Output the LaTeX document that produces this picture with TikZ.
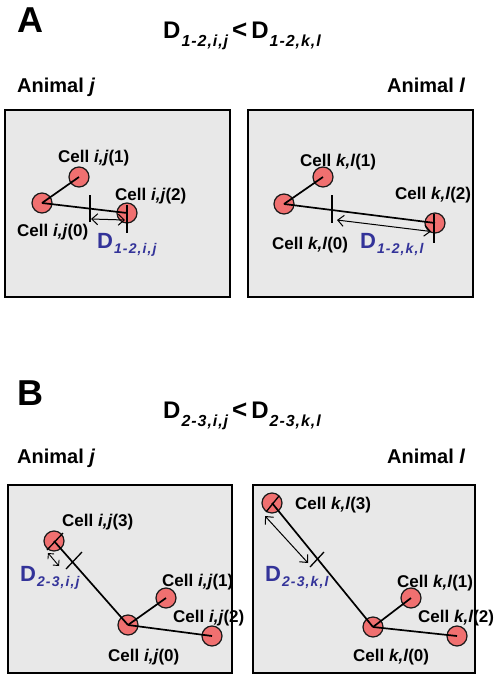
\documentclass[tikz,border=0pt]{standalone}
\usepackage{fontspec}
\setmainfont{Liberation Sans}
\usetikzlibrary{arrows.meta}
\definecolor{cellfill}{RGB}{240,112,112}
\definecolor{panelgray}{RGB}{232,232,232}
\definecolor{dblue}{RGB}{51,51,153}
\newcommand\Dsym[5]{{\fontsize{#1}{#1}\selectfont D}\kern1pt\raisebox{-#3}{\fontsize{#2}{#2}\selectfont\itshape\addfontfeatures{LetterSpace=#4}#5}}
\begin{document}
\begin{tikzpicture}[x=1pt,y=-1pt,
  cell/.style={circle, fill=cellfill, draw=black!90, line width=1.2pt, minimum size=20pt, inner sep=0pt},
  lbl/.style={anchor=base west, inner sep=0pt, font=\bfseries\fontsize{17}{17}\selectfont},
  head/.style={anchor=base west, inner sep=0pt, font=\bfseries\fontsize{36}{36}\selectfont},
  animal/.style={anchor=base west, inner sep=0pt, font=\bfseries\fontsize{20}{20}\selectfont},
  title/.style={anchor=base west, inner sep=0pt, font=\bfseries},
  dlbl/.style={anchor=base west, inner sep=0pt, text=dblue, font=\bfseries},
  panel/.style={draw=black, line width=2pt, fill=panelgray},
  link/.style={line width=1.7pt},
  tickmark/.style={line width=1.3pt},
  dim/.style={{Straight Barb[length=6pt,width=11pt]}-{Straight Barb[length=6pt,width=11pt]}, line width=1pt},
  dimsmall/.style={{Straight Barb[length=4pt,width=8pt]}-{Straight Barb[length=4pt,width=8pt]}, line width=0.9pt}
]
\useasboundingbox (0,0) rectangle (501,680);
\fill[white] (0,0) rectangle (501,680);

% ---------------- Panel A ----------------
\node[head] (hA) at (17,32) {A};
\node[title] (tA) at (163,38) {\Dsym{24pt}{16pt}{8pt}{6}{1-2,i,j}\kern4pt{\fontsize{26}{26}\selectfont<}\kern4pt\Dsym{24pt}{16pt}{8pt}{6}{1-2,k,l}};
\node[animal] (anjA) at (17,92) {Animal \textit{j}};
\node[animal] (anlA) at (387,92) {Animal \textit{l}};

\draw[panel] (5,110) rectangle (230,297);
\draw[panel] (248,110) rectangle (473,297);

% left box A
\node[cell] (a0) at (42,203) {};
\node[cell] (a1) at (79,177) {};
\node[cell] (a2) at (127,213) {};
\draw[link] (a0.center) -- (a1.center);
\draw[link] (a0.center) -- (a2.center);
\coordinate (at1a) at (90,195); \coordinate (at1b) at (90,222);
\coordinate (at2a) at (127,205); \coordinate (at2b) at (127,233);
\draw[tickmark] (at1a) -- (at1b);
\draw[tickmark] (at2a) -- (at2b);
\coordinate (ada) at (91,219); \coordinate (adb) at (125,220);
\draw[dim] (ada) -- (adb);
\node[lbl] (la1) at (58,162) {Cell \textit{i,j}(1)};
\node[lbl] (la2) at (115,200) {Cell \textit{i,j}(2)};
\node[lbl] (la0) at (17,236) {Cell \textit{i,j}(0)};
\node[dlbl] (da) at (97,248) {\Dsym{22pt}{14pt}{5pt}{8}{1-2,i,j}};

% right box A
\node[cell] (b0) at (284,204) {};
\node[cell] (b1) at (323,177) {};
\node[cell] (b2) at (435,223) {};
\draw[link] (b0.center) -- (b1.center);
\draw[link] (b0.center) -- (b2.center);
\coordinate (bt1a) at (332,195); \coordinate (bt1b) at (332,223);
\coordinate (bt2a) at (434,214); \coordinate (bt2b) at (434,243);
\draw[tickmark] (bt1a) -- (bt1b);
\draw[tickmark] (bt2a) -- (bt2b);
\coordinate (bda) at (337,220); \coordinate (bdb) at (431,231.5);
\draw[dim] (bda) -- (bdb);
\node[lbl] (lb1) at (300,166) {Cell \textit{k,l}(1)};
\node[lbl] (lb2) at (395,199) {Cell \textit{k,l}(2)};
\node[lbl] (lb0) at (272,249) {Cell \textit{k,l}(0)};
\node[dlbl] (db) at (360,248) {\Dsym{22pt}{14pt}{5pt}{8}{1-2,k,l}};

% ---------------- Panel B ----------------
\node[head] (hB) at (17,405) {B};
\node[title] (tB) at (163,418) {\Dsym{24pt}{16pt}{8pt}{6}{2-3,i,j}\kern4pt{\fontsize{26}{26}\selectfont<}\kern4pt\Dsym{24pt}{16pt}{8pt}{6}{2-3,k,l}};
\node[animal] (anjB) at (17,463) {Animal \textit{j}};
\node[animal] (anlB) at (387,463) {Animal \textit{l}};

\draw[panel] (8,485) rectangle (232,673);
\draw[panel] (253,485) rectangle (475,673);

% left box B
\node[cell] (c0) at (128,625) {};
\node[cell] (c1) at (166,598) {};
\node[cell] (c2) at (212,636) {};
\node[cell] (c3) at (54,541) {};
\draw[link] (c0.center) -- (c1.center);
\draw[link] (c0.center) -- (c2.center);
\draw[link] (c0.center) -- (c3.center);
\coordinate (ct1a) at (47,550); \coordinate (ct1b) at (63,533);
\coordinate (ct2a) at (66,569); \coordinate (ct2b) at (82,552);
\draw[tickmark] (ct1a) -- (ct1b);
\draw[tickmark] (ct2a) -- (ct2b);
\coordinate (cda) at (48,553); \coordinate (cdb) at (59,566);
\draw[dimsmall] (cda) -- (cdb);
\node[lbl] (lc3) at (62,526) {Cell \textit{i,j}(3)};
\node[lbl] (lc1) at (162,586) {Cell \textit{i,j}(1)};
\node[lbl] (lc2) at (173,622) {Cell \textit{i,j}(2)};
\node[lbl] (lc0) at (108,661) {Cell \textit{i,j}(0)};
\node[dlbl] (dc) at (20,581) {\Dsym{22pt}{14pt}{5pt}{8}{2-3,i,j}};

% right box B
\node[cell] (e0) at (373,627) {};
\node[cell] (e1) at (411,598) {};
\node[cell] (e2) at (457,636) {};
\node[cell] (e3) at (272,503) {};
\draw[link] (e0.center) -- (e1.center);
\draw[link] (e0.center) -- (e2.center);
\draw[link] (e0.center) -- (e3.center);
\coordinate (et1a) at (266,512); \coordinate (et1b) at (279,496);
\coordinate (et2a) at (310,567); \coordinate (et2b) at (324,552);
\draw[tickmark] (et1a) -- (et1b);
\draw[tickmark] (et2a) -- (et2b);
\coordinate (eda) at (265,516); \coordinate (edb) at (308,563);
\draw[dim] (eda) -- (edb);
\node[lbl] (le3) at (295,509) {Cell \textit{k,l}(3)};
\node[lbl] (le1) at (397,587) {Cell \textit{k,l}(1)};
\node[lbl] (le2) at (418,622) {Cell \textit{k,l}(2)};
\node[lbl] (le0) at (353,661) {Cell \textit{k,l}(0)};
\node[dlbl] (de) at (265,581) {\Dsym{22pt}{14pt}{5pt}{8}{2-3,k,l}};
\end{tikzpicture}
\end{document}
